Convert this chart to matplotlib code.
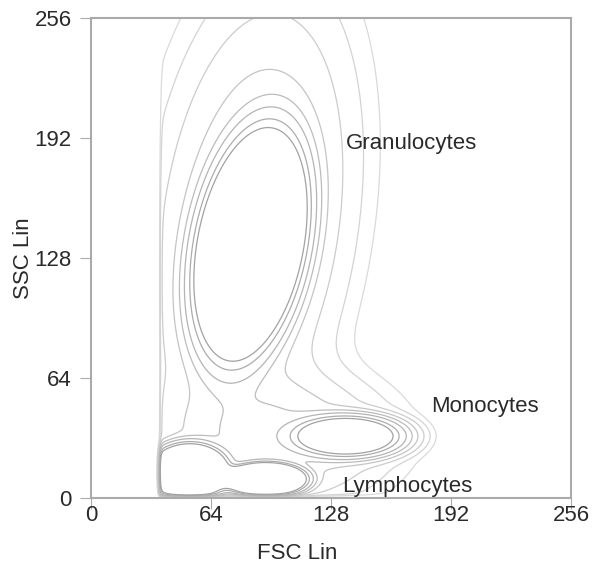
import numpy as np
import matplotlib
matplotlib.use('Agg')
import matplotlib.pyplot as plt

## 1. Data: populations (FSC, SSC in channel units 0-256)
# core populations (flat-topped) and diffuse halos / debris (gaussian)
pop_names = ['Granulocytes', 'Lymph-left', 'Lymph-right', 'Monocytes',
             'Gran-halo', 'Low-halo', 'Debris-top']
pop_fsc = [85, 52, 93, 137, 84, 98, 92]
pop_ssc = [135, 14, 10, 33, 140, 32, 200]
pop_sd_fsc = [22.5, 17, 17.5, 21, 27, 33, 30]
pop_sd_ssc = [50, 12, 7, 8, 62, 19, 60]
pop_angle = [-11, 0, 0, 0, -8, 0, -5]      # tilt in degrees
pop_power = [4, 4, 4, 3, 2, 2, 2]          # 2 = gaussian, 4 = flat top
pop_weight = [1.0, 1.0, 1.0, 0.7, 0.1, 0.1, 0.015]
fsc_threshold = 37                          # hard cut on forward scatter

label_text = ['Granulocytes', 'Monocytes', 'Lymphocytes']
label_x = [136, 181, 134]
label_y = [189, 49, 6]

ticks = [0, 64, 128, 192, 256]

## 2. Density on a grid
gx = np.linspace(0, 256, 513)
gy = np.linspace(0, 256, 513)
X, Y = np.meshgrid(gx, gy)
Z = np.zeros_like(X)
for i in range(len(pop_names)):
    a = np.deg2rad(pop_angle[i])
    dx = X - pop_fsc[i]
    dy = Y - pop_ssc[i]
    u = dx * np.cos(a) + dy * np.sin(a)
    v = -dx * np.sin(a) + dy * np.cos(a)
    r = np.sqrt((u / pop_sd_fsc[i]) ** 2 + (v / pop_sd_ssc[i]) ** 2)
    Z += pop_weight[i] * np.exp(-0.5 * r ** pop_power[i])
Z *= 1 / (1 + np.exp(-(X - fsc_threshold) / 0.4))
Z *= 1 / (1 + np.exp(-(Y - 1.5) / 0.5))

levels = [0.006, 0.012, 0.025, 0.05, 0.09, 0.15, 0.25, 0.35]
colors = ['#dadada', '#d3d3d3', '#cccccc', '#c4c4c4', '#bcbcbc', '#b4b4b4', '#acacac', '#a2a2a2']

## 3. Plot
plt.rcParams['font.family'] = ['Liberation Sans', 'DejaVu Sans']
fig = plt.figure(figsize=(5.93, 5.66), dpi=100)
ax = fig.add_axes([0.1535, 0.12, 0.81, 0.848])

ax.contour(X, Y, Z, levels=levels, colors=colors, linewidths=0.9)

for t, x, y in zip(label_text, label_x, label_y):
    ax.text(x, y, t, fontsize=16, color='#2a2a2a', va='center', ha='left')

ax.set_xlim(0, 256)
ax.set_ylim(0, 256)
ax.set_xticks(ticks)
ax.set_yticks(ticks)
ax.tick_params(length=8, width=0.8, color='#aaaaaa', labelsize=16, labelcolor='#2a2a2a')
ax.tick_params(axis='x', pad=-3)
ax.tick_params(axis='y', pad=6)
for s in ax.spines.values():
    s.set_color('#aaaaaa')
    s.set_linewidth(1.5)
ax.set_xlabel('FSC Lin', fontsize=16, color='#2a2a2a')
ax.xaxis.set_label_coords(0.429, -0.094)
ax.set_ylabel('SSC Lin', fontsize=16, color='#2a2a2a', labelpad=0)

plt.savefig('out.png', dpi=100)
